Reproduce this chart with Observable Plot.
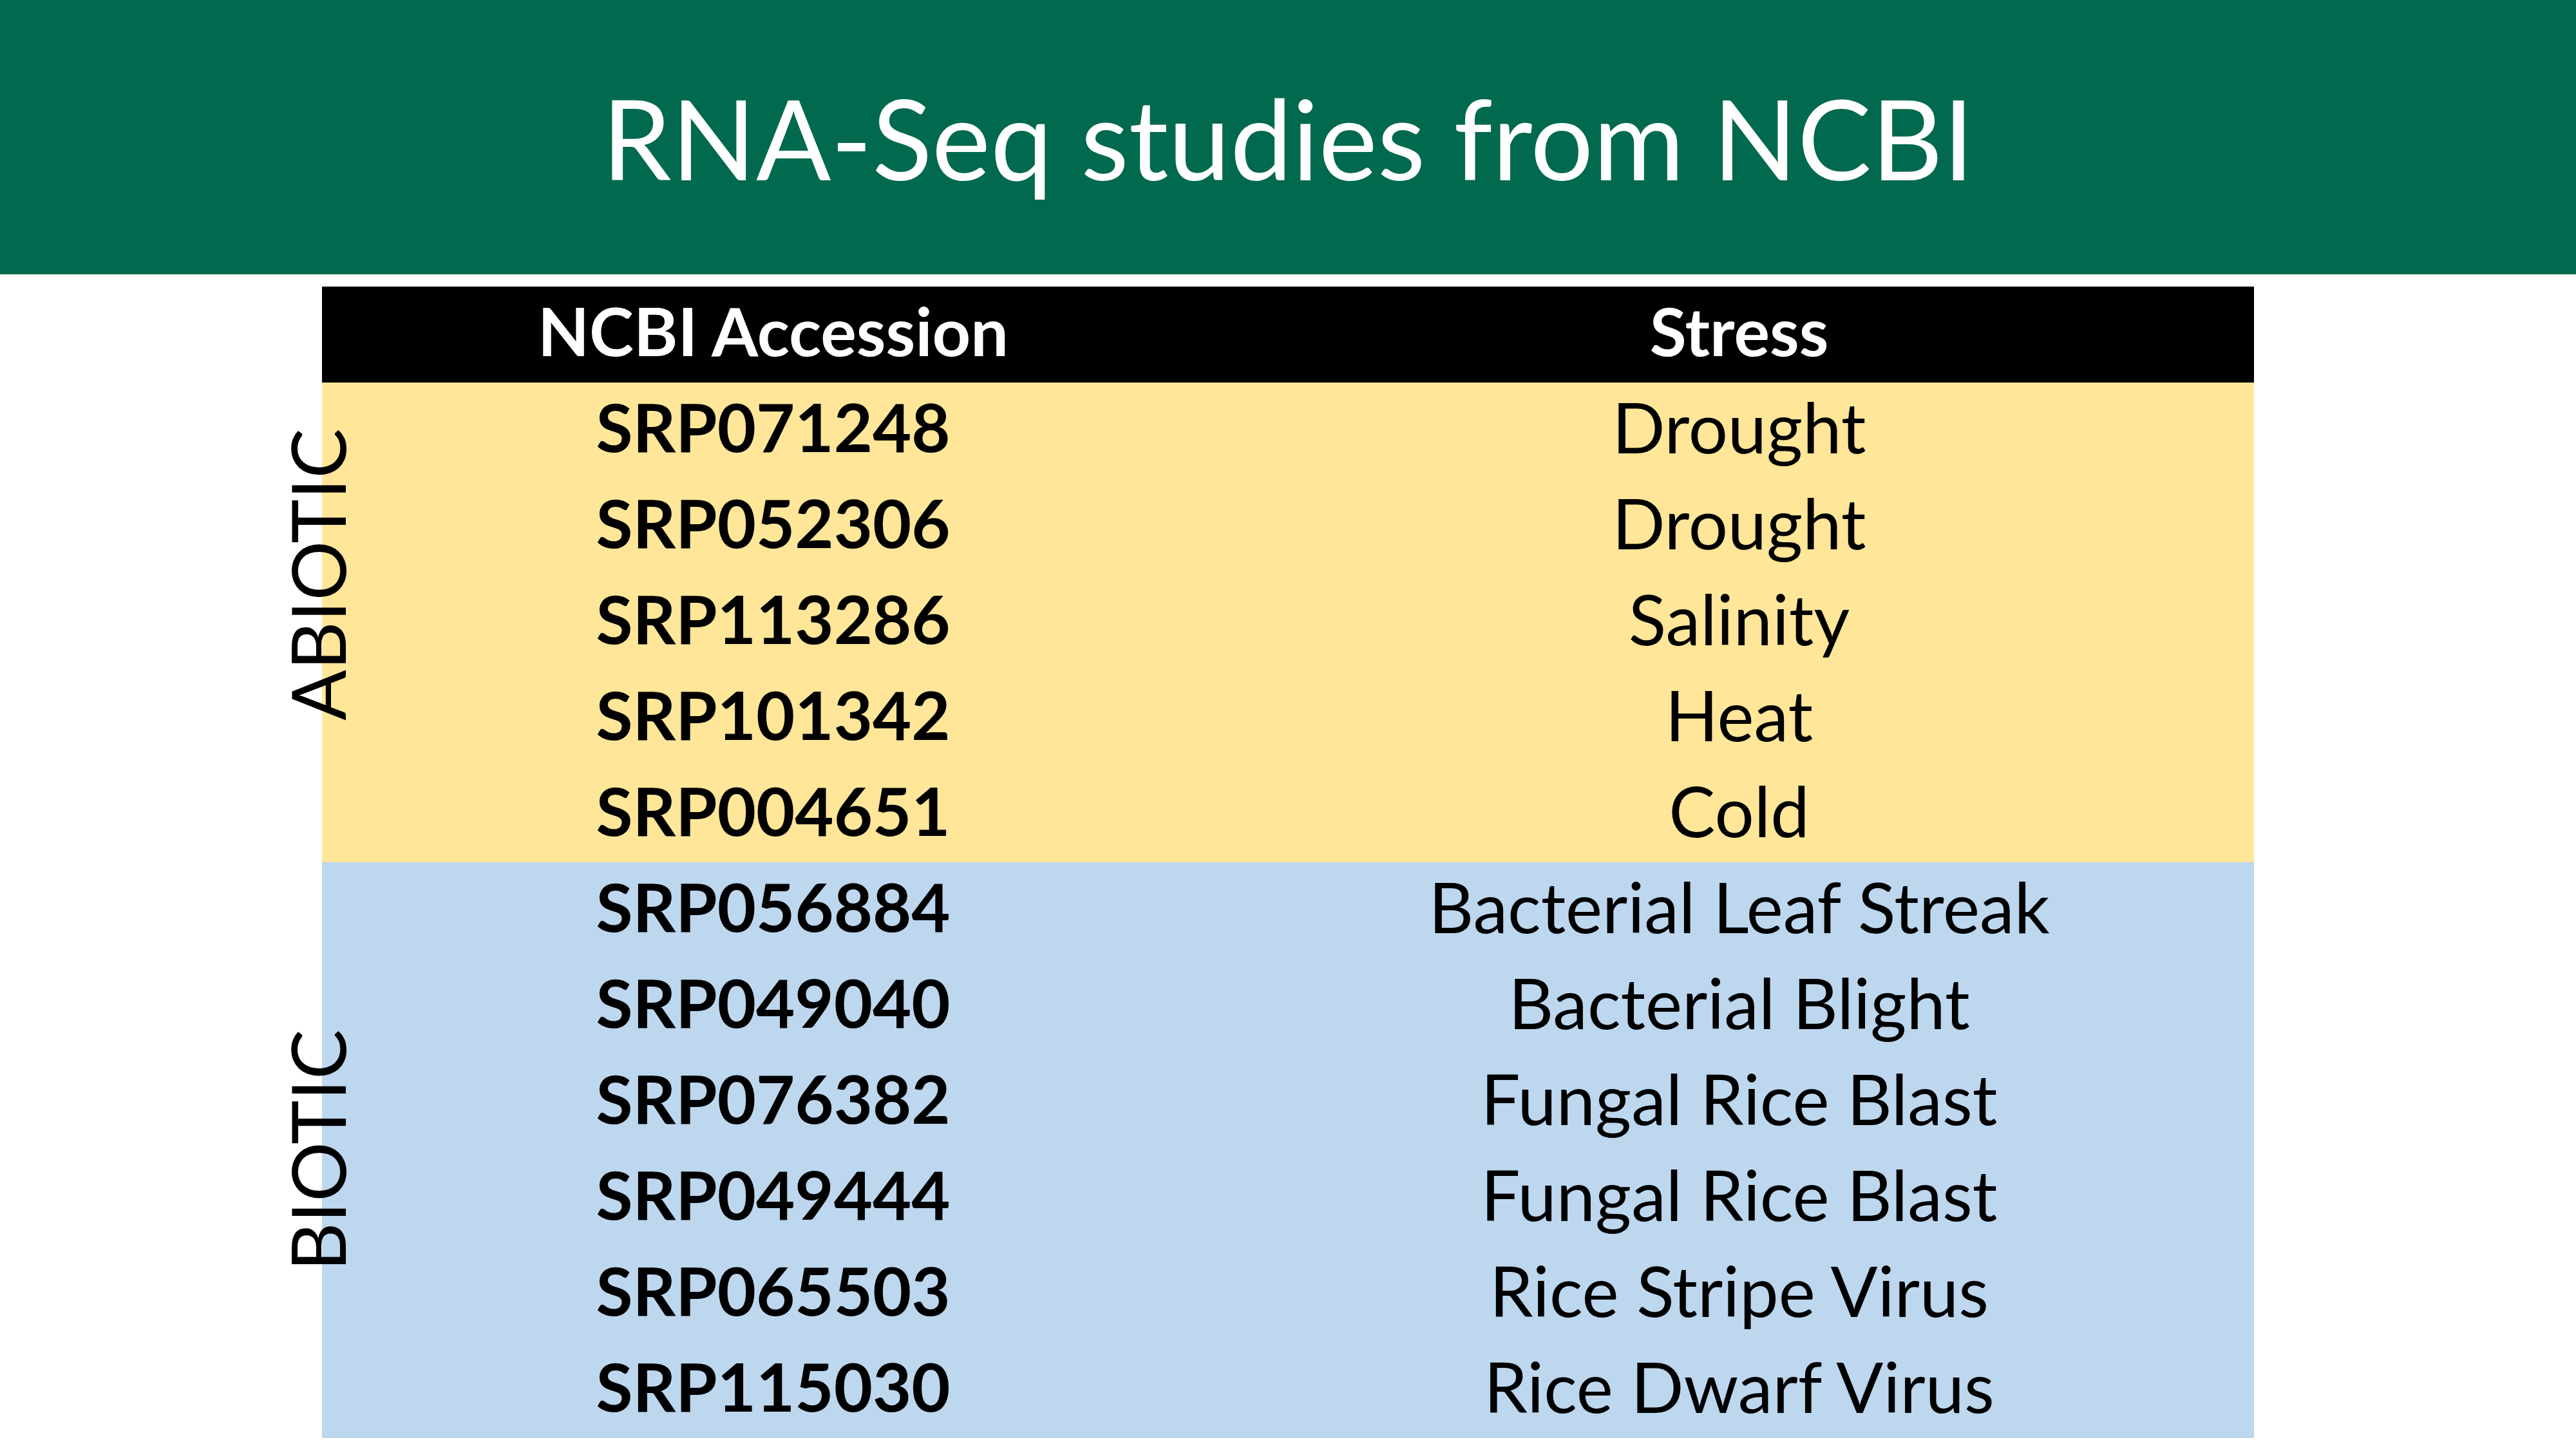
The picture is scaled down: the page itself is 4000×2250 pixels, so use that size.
<!DOCTYPE html>
<html>
<head>
<meta charset="utf-8">
<script src="https://cdn.jsdelivr.net/npm/d3@7"></script>
<script src="https://cdn.jsdelivr.net/npm/@observablehq/plot@0.6"></script>
<style>
  body { margin: 0; background: #fff; font-family: Lato, "Open Sans", sans-serif; }
  #banner { height: 426px; background: #00694E; color: #fff; display: flex; align-items: center; justify-content: center; font-size: 172px; }
  #chart { margin-top: 15px; }
</style>
</head>
<body>
<div id="banner">RNA-Seq studies from NCBI</div>
<div id="chart"></div>
<script>
const columns = ["NCBI Accession", "Stress"];
const accessions = ["SRP071248", "SRP052306", "SRP113286", "SRP101342", "SRP004651",
  "SRP056884", "SRP049040", "SRP076382", "SRP049444", "SRP065503", "SRP115030"];
const stresses = ["Drought", "Drought", "Salinity", "Heat", "Cold",
  "Bacterial Leaf Streak", "Bacterial Blight", "Fungal Rice Blast", "Fungal Rice Blast",
  "Rice Stripe Virus", "Rice Dwarf Virus"];
const groups = ["ABIOTIC", "ABIOTIC", "ABIOTIC", "ABIOTIC", "ABIOTIC",
  "BIOTIC", "BIOTIC", "BIOTIC", "BIOTIC", "BIOTIC", "BIOTIC"];

const rows = ["header", ...accessions];
const cells = [];
columns.forEach(c => cells.push({ row: "header", col: c, text: c, group: "header" }));
accessions.forEach((a, i) => {
  cells.push({ row: a, col: columns[0], text: a, group: groups[i] });
  cells.push({ row: a, col: columns[1], text: stresses[i], group: groups[i] });
});
const boldCells = cells.filter(d => d.group === "header" || d.col === columns[0]);
const plainCells = cells.filter(d => !(d.group === "header" || d.col === columns[0]));
// group label near the middle of each group
const labels = [
  { row: accessions[2], text: "ABIOTIC", dy: 0 },
  { row: accessions[8], text: "BIOTIC", dy: -25 }
];

const chart = Plot.plot({
  width: 4000, height: 1809,
  marginLeft: 500, marginRight: 500, marginTop: 0, marginBottom: 13,
  x: { domain: columns, axis: null, padding: 0 },
  y: { domain: rows, axis: null, padding: 0 },
  color: { domain: ["header", "ABIOTIC", "BIOTIC"], range: ["#000000", "#FFE699", "#BDD7EE"] },
  style: { fontFamily: "Lato, 'Open Sans', sans-serif" },
  marks: [
    Plot.cell(cells, { x: "col", y: "row", fill: "group", inset: 0 }),
    Plot.text(boldCells, {
      x: "col", y: "row", text: "text", dx: -50,
      fill: d => d.group === "header" ? "#fff" : "#000",
      fontWeight: "bold", fontSize: 104
    }),
    Plot.text(plainCells, {
      x: "col", y: "row", text: "text", dx: -50,
      fill: "#000", fontSize: 108
    }),
    Plot.text(labels, {
      y: "row", text: "text", dy: "dy", frameAnchor: "left", dx: -92,
      textAnchor: "middle", rotate: -90, fontSize: 116, fill: "#000"
    })
  ]
});
document.getElementById("chart").appendChild(chart);
</script>
</body>
</html>
